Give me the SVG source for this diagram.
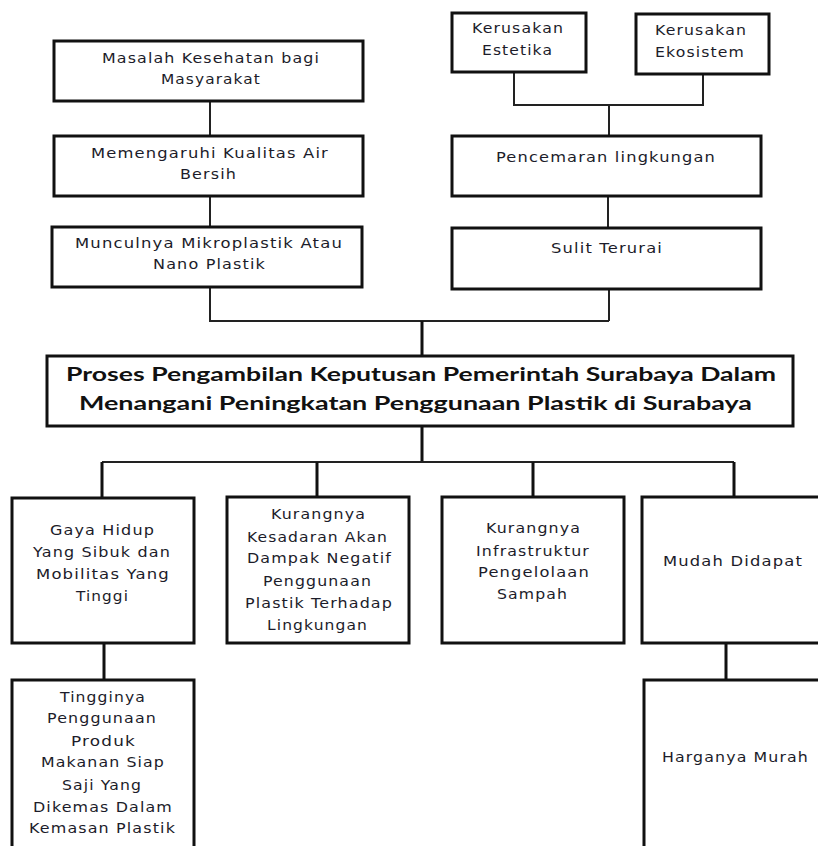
<svg xmlns="http://www.w3.org/2000/svg" width="818" height="846" viewBox="0 0 818 846">
<style>
.box{fill:#fff;stroke:#111;stroke-width:3}
.t{font-family:"DejaVu Sans","Open Sans",sans-serif;font-size:14px;letter-spacing:1px;fill:#1c1c2a;text-anchor:middle}
.tb{font-family:Lato,"Open Sans","DejaVu Sans",sans-serif;font-size:19px;font-weight:bold;fill:#111;text-anchor:middle}
.c{fill:none;stroke:#222;stroke-width:2}
.ct{fill:none;stroke:#111;stroke-width:3}
</style>
<rect width="818" height="846" fill="#fff"/>
<g id="connectors">
<path class="c" d="M210 101V136M210 196V227M210 287V321H609M514 72V105H703V74M609 105V136M608 196V228M609 289V321"/>
<path class="ct" d="M422 321V356M422 426V462"/>
<path class="c" d="M102 462H734"/>
<path class="ct" d="M102 462V498M317 462V497M533 462V497M734 462V497M104 643V680M726 643V680"/>
</g>
<g id="n-masalah">
<rect class="box" x="54" y="41" width="309" height="60"/>
<text class="t" x="211" y="63" textLength="218" lengthAdjust="spacingAndGlyphs">Masalah Kesehatan bagi</text>
<text class="t" x="211" y="84" textLength="100" lengthAdjust="spacingAndGlyphs">Masyarakat</text>
</g>
<g id="n-memengaruhi">
<rect class="box" x="54" y="136" width="309" height="60"/>
<text class="t" x="210" y="158" textLength="238" lengthAdjust="spacingAndGlyphs">Memengaruhi Kualitas Air</text>
<text class="t" x="208.5" y="179" textLength="57" lengthAdjust="spacingAndGlyphs">Bersih</text>
</g>
<g id="n-munculnya">
<rect class="box" x="52" y="227" width="310" height="60"/>
<text class="t" x="209" y="248" textLength="268" lengthAdjust="spacingAndGlyphs">Munculnya Mikroplastik Atau</text>
<text class="t" x="209.5" y="269" textLength="113" lengthAdjust="spacingAndGlyphs">Nano Plastik</text>
</g>
<g id="n-estetika">
<rect class="box" x="452" y="13" width="134" height="59"/>
<text class="t" x="518" y="33" textLength="92" lengthAdjust="spacingAndGlyphs">Kerusakan</text>
<text class="t" x="517.5" y="55" textLength="71" lengthAdjust="spacingAndGlyphs">Estetika</text>
</g>
<g id="n-ekosistem">
<rect class="box" x="636" y="14" width="133" height="60"/>
<text class="t" x="701" y="35" textLength="92" lengthAdjust="spacingAndGlyphs">Kerusakan</text>
<text class="t" x="700" y="57" textLength="90" lengthAdjust="spacingAndGlyphs">Ekosistem</text>
</g>
<g id="n-pencemaran">
<rect class="box" x="452" y="136" width="309" height="60"/>
<text class="t" x="606" y="162" textLength="220" lengthAdjust="spacingAndGlyphs">Pencemaran lingkungan</text>
</g>
<g id="n-sulit">
<rect class="box" x="452" y="228" width="309" height="61"/>
<text class="t" x="607" y="253" textLength="112" lengthAdjust="spacingAndGlyphs">Sulit Terurai</text>
</g>
<g id="n-proses">
<rect class="box" x="47" y="356" width="746" height="70"/>
<text class="tb" x="421" y="381" textLength="710" lengthAdjust="spacingAndGlyphs">Proses Pengambilan Keputusan Pemerintah Surabaya Dalam</text>
<text class="tb" x="415.5" y="410" textLength="673" lengthAdjust="spacingAndGlyphs">Menangani Peningkatan Penggunaan Plastik di Surabaya</text>
</g>
<g id="n-gaya">
<rect class="box" x="12" y="498" width="182" height="145"/>
<text class="t" x="102.5" y="535" textLength="105" lengthAdjust="spacingAndGlyphs">Gaya Hidup</text>
<text class="t" x="102" y="557" textLength="138" lengthAdjust="spacingAndGlyphs">Yang Sibuk dan</text>
<text class="t" x="103" y="579" textLength="134" lengthAdjust="spacingAndGlyphs">Mobilitas Yang</text>
<text class="t" x="102.5" y="601" textLength="53" lengthAdjust="spacingAndGlyphs">Tinggi</text>
</g>
<g id="n-kesadaran">
<rect class="box" x="227" y="497" width="182" height="146"/>
<text class="t" x="318.5" y="519" textLength="95" lengthAdjust="spacingAndGlyphs">Kurangnya</text>
<text class="t" x="317.5" y="542" textLength="141" lengthAdjust="spacingAndGlyphs">Kesadaran Akan</text>
<text class="t" x="319.5" y="563" textLength="145" lengthAdjust="spacingAndGlyphs">Dampak Negatif</text>
<text class="t" x="317.5" y="586" textLength="109" lengthAdjust="spacingAndGlyphs">Penggunaan</text>
<text class="t" x="319" y="608" textLength="148" lengthAdjust="spacingAndGlyphs">Plastik Terhadap</text>
<text class="t" x="317.5" y="630" textLength="101" lengthAdjust="spacingAndGlyphs">Lingkungan</text>
</g>
<g id="n-infrastruktur">
<rect class="box" x="442" y="497" width="182" height="146"/>
<text class="t" x="533.5" y="533" textLength="95" lengthAdjust="spacingAndGlyphs">Kurangnya</text>
<text class="t" x="533" y="556" textLength="114" lengthAdjust="spacingAndGlyphs">Infrastruktur</text>
<text class="t" x="534" y="577" textLength="112" lengthAdjust="spacingAndGlyphs">Pengelolaan</text>
<text class="t" x="532.5" y="599" textLength="71" lengthAdjust="spacingAndGlyphs">Sampah</text>
</g>
<g id="n-mudah">
<rect class="box" x="642" y="497" width="182" height="146"/>
<text class="t" x="733" y="566" textLength="140" lengthAdjust="spacingAndGlyphs">Mudah Didapat</text>
</g>
<g id="n-tingginya">
<rect class="box" x="12" y="680" width="182" height="172"/>
<text class="t" x="103" y="702" textLength="86" lengthAdjust="spacingAndGlyphs">Tingginya</text>
<text class="t" x="102" y="723" textLength="110" lengthAdjust="spacingAndGlyphs">Penggunaan</text>
<text class="t" x="103.5" y="746" textLength="65" lengthAdjust="spacingAndGlyphs">Produk</text>
<text class="t" x="103" y="767" textLength="124" lengthAdjust="spacingAndGlyphs">Makanan Siap</text>
<text class="t" x="102" y="790" textLength="80" lengthAdjust="spacingAndGlyphs">Saji Yang</text>
<text class="t" x="103" y="812" textLength="140" lengthAdjust="spacingAndGlyphs">Dikemas Dalam</text>
<text class="t" x="102.5" y="833" textLength="147" lengthAdjust="spacingAndGlyphs">Kemasan Plastik</text>
</g>
<g id="n-harganya">
<rect class="box" x="644" y="680" width="180" height="172"/>
<text class="t" x="735.5" y="762" textLength="147" lengthAdjust="spacingAndGlyphs">Harganya Murah</text>
</g>
</svg>
